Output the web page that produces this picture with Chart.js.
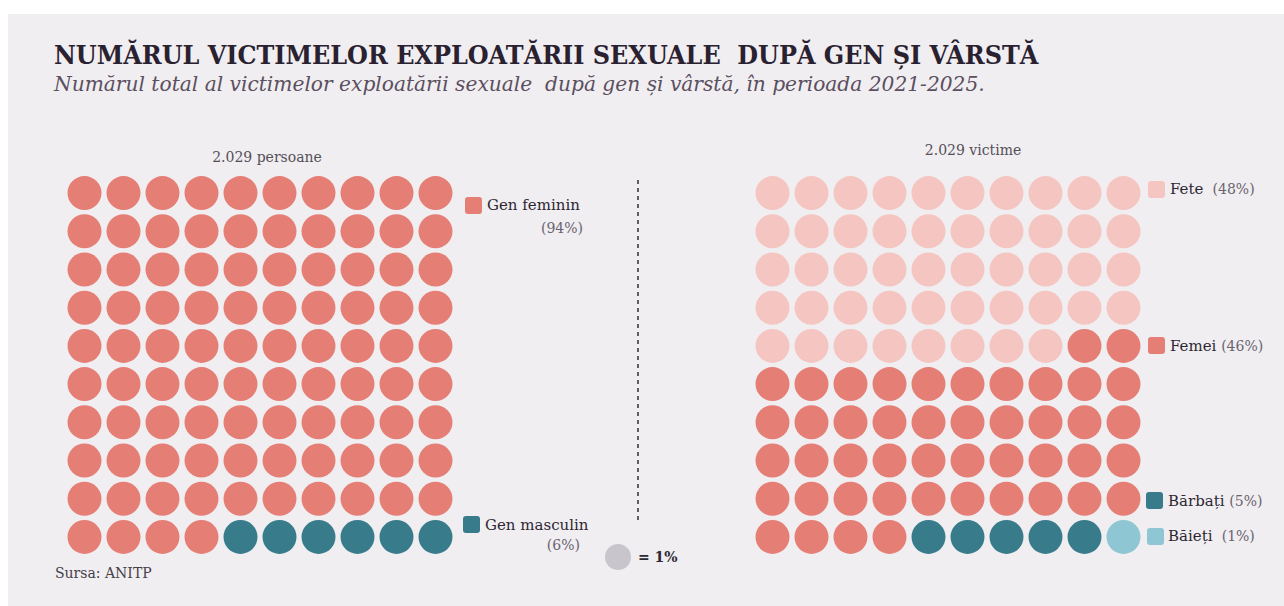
<!DOCTYPE html>
<html lang="ro">
<head>
<meta charset="utf-8">
<title>Numărul victimelor exploatării sexuale după gen și vârstă</title>
<script src="https://cdn.jsdelivr.net/npm/chart.js@4"></script>
<style>
    html, body { margin: 0; padding: 0; background: #ffffff; }
    #panel {
        position: absolute; left: 8px; top: 14px; width: 1276px; height: 592px;
        background: #f0eef1; font-family: "DejaVu Serif", serif; color: #2d2733;
    }
    .txt { position: absolute; white-space: nowrap; line-height: 1; }
    .sq { position: absolute; width: 17px; height: 17px; border-radius: 3px; }
    canvas { position: absolute; }
    .pct { color: #6a6470; }
</style>
</head>
<body>
<div id="panel">
    <div class="txt" id="title" style="left:46px; top:28px; font-size:26.5px; font-weight:bold; color:#2a2130; transform-origin:0 0; transform:scaleX(0.903);">NUMĂRUL VICTIMELOR EXPLOATĂRII SEXUALE&nbsp; DUPĂ GEN ȘI VÂRSTĂ</div>
    <div class="txt" id="subtitle" style="left:46px; top:60px; font-size:20.2px; font-style:italic; color:#5b4f60;">Numărul total al victimelor exploatării sexuale&nbsp; după gen și vârstă, în perioada 2021-2025.</div>

    <div class="txt" style="left:259px; top:136px; font-size:14px; color:#555058; transform:translateX(-50%);">2.029 persoane</div>
    <div class="txt" style="left:965px; top:129px; font-size:14px; color:#555058; transform:translateX(-50%);">2.029 victime</div>

    <canvas id="leftChart" width="390" height="382" style="left:57px; top:160px;"></canvas>
    <canvas id="rightChart" width="390" height="382" style="left:745px; top:160px;"></canvas>

    <!-- legend, left waffle -->
    <div class="sq" style="left:457px; top:183px; background:#e57f76;"></div>
    <div class="txt" style="left:479px; top:184px; font-size:15px;">Gen feminin</div>
    <div class="txt pct" style="right:701px; top:207px; font-size:14px;">(94%)</div>
    <div class="sq" style="left:455px; top:502px; background:#387c8b;"></div>
    <div class="txt" style="left:477px; top:504px; font-size:15px;">Gen masculin</div>
    <div class="txt pct" style="right:704px; top:524px; font-size:14px;">(6%)</div>

    <!-- legend, right waffle -->
    <div class="sq" style="left:1140px; top:167px; background:#f5c6c1;"></div>
    <div class="txt" style="left:1162px; top:168px; font-size:15px;">Fete <span class="pct" style="font-size:14px;">&nbsp;(48%)</span></div>
    <div class="sq" style="left:1140px; top:323px; background:#e57f76;"></div>
    <div class="txt" style="left:1162px; top:325px; font-size:15px;">Femei <span class="pct" style="font-size:14px;">(46%)</span></div>
    <div class="sq" style="left:1138px; top:478px; background:#387c8b;"></div>
    <div class="txt" style="left:1160px; top:480px; font-size:15px;">Bărbați <span class="pct" style="font-size:14px;">(5%)</span></div>
    <div class="sq" style="left:1139px; top:514px; background:#8ec6d3;"></div>
    <div class="txt" style="left:1160px; top:515px; font-size:15px;">Băieți <span class="pct" style="font-size:14px;">&nbsp;(1%)</span></div>

    <!-- divider and unit key -->
    <div style="position:absolute; left:629px; top:166px; width:2px; height:342px;
                background:repeating-linear-gradient(to bottom, #625c68 0 4.5px, transparent 4.5px 8px);"></div>
    <div style="position:absolute; left:597px; top:530px; width:26px; height:26px; border-radius:50%; background:#c8c5cc;"></div>
    <div class="txt" style="left:630px; top:536px; font-size:14px; font-weight:bold;">= 1%</div>

    <div class="txt" style="left:47px; top:552px; font-size:14px; color:#454049;">Sursa: ANITP</div>
</div>

<script>
// each dot is 1% of the victims, grid of 10 x 10 filled row by row
const genderLabels = ['Gen feminin', 'Gen masculin'];
const genderCounts = [94, 6];
const genderColors = ['#e57f76', '#387c8b'];

const ageLabels = ['Fete', 'Femei', 'Bărbați', 'Băieți'];
const ageCounts = [48, 46, 5, 1];
const ageColors = ['#f5c6c1', '#e57f76', '#387c8b', '#8ec6d3'];

const COLS = 10;

function waffleDatasets(labels, counts, colors) {
    let idx = 0;
    return labels.map((label, i) => {
        const pts = [];
        for (let k = 0; k < counts[i]; k++, idx++) {
            pts.push({ x: idx % COLS, y: Math.floor(idx / COLS) });
        }
        return {
            label,
            data: pts,
            pointRadius: 17,
            pointHoverRadius: 17,
            pointBackgroundColor: colors[i],
            pointBorderWidth: 0,
            borderWidth: 0,
            clip: false
        };
    });
}

function makeWaffle(id, labels, counts, colors) {
    const ctx = document.getElementById(id).getContext('2d');
    return new Chart(ctx, {
        type: 'scatter',
        data: { datasets: waffleDatasets(labels, counts, colors) },
        options: {
            responsive: false,
            animation: false,
            layout: { padding: 0, autoPadding: false },
            plugins: { legend: { display: false }, tooltip: { enabled: false } },
            scales: {
                x: { type: 'linear', min: -0.5, max: 9.5, display: false },
                y: { type: 'linear', min: -0.5, max: 9.5, reverse: true, display: false }
            }
        }
    });
}

makeWaffle('leftChart', genderLabels, genderCounts, genderColors);
makeWaffle('rightChart', ageLabels, ageCounts, ageColors);
</script>
</body>
</html>
